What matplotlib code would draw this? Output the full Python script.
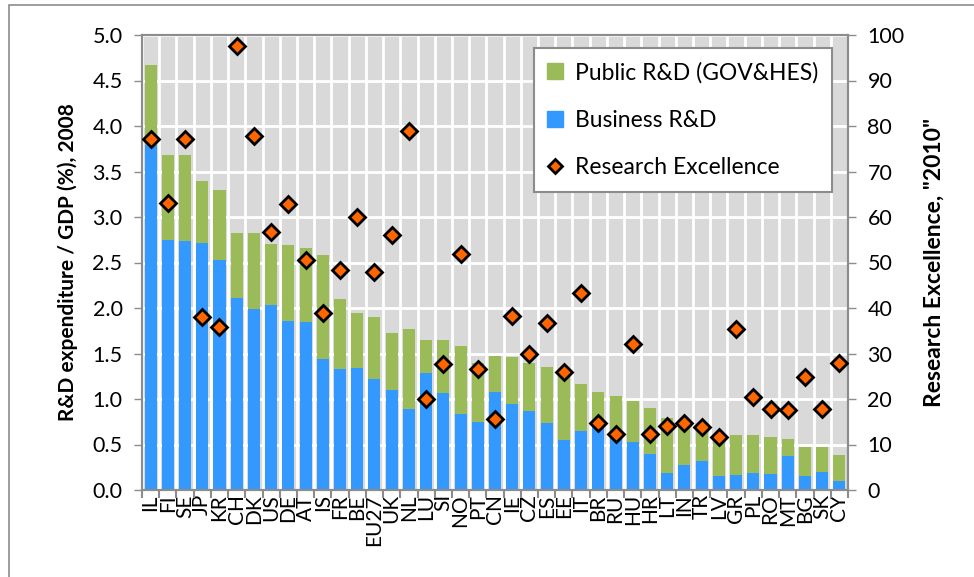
import numpy as np
import matplotlib.pyplot as plt
from matplotlib.lines import Line2D
from matplotlib.patches import Rectangle

plt.rcParams['font.family'] = ['Lato', 'DejaVu Sans']

# datos
countries = ["IL", "FI", "SE", "JP", "KR", "CH", "DK", "US", "DE", "AT", "IS", "FR", "BE",
             "EU27", "UK", "NL", "LU", "SI", "NO", "PT", "CN", "IE", "CZ", "ES", "EE", "IT",
             "BR", "RU", "HU", "HR", "LT", "IN", "TR", "LV", "GR", "PL", "RO", "MT", "BG",
             "SK", "CY"]
business = [3.79, 2.75, 2.74, 2.71, 2.53, 2.11, 1.99, 2.03, 1.86, 1.85, 1.44, 1.33, 1.34,
            1.22, 1.10, 0.89, 1.29, 1.07, 0.84, 0.75, 1.08, 0.94, 0.87, 0.74, 0.55, 0.65,
            0.70, 0.60, 0.53, 0.40, 0.19, 0.27, 0.32, 0.15, 0.17, 0.19, 0.18, 0.37, 0.15,
            0.20, 0.10]
public = [0.88, 0.93, 0.94, 0.69, 0.77, 0.71, 0.83, 0.67, 0.83, 0.81, 1.14, 0.77, 0.61,
          0.68, 0.63, 0.88, 0.36, 0.58, 0.74, 0.65, 0.39, 0.52, 0.53, 0.61, 0.78, 0.52,
          0.38, 0.43, 0.45, 0.50, 0.60, 0.50, 0.40, 0.47, 0.43, 0.41, 0.40, 0.19, 0.32,
          0.27, 0.29]
excellence = [77.1, 63.0, 77.1, 38.1, 35.8, 97.6, 77.7, 56.6, 62.9, 50.5, 38.9, 48.4, 60.1,
              47.9, 56.1, 78.9, 19.9, 27.6, 51.8, 26.5, 15.7, 38.2, 30.0, 36.7, 25.9, 43.2,
              14.8, 12.2, 32.0, 12.4, 14.1, 14.8, 13.8, 11.6, 35.3, 20.5, 17.9, 17.6, 24.8,
              17.9, 27.9]

green = "#9BBB59"
blue = "#3399FF"
orange = "#FF6600"
frame = "#8C8C8C"

fig = plt.figure(figsize=(9.74, 5.77), dpi=100)
ax = fig.add_axes([142 / 974, 1 - 490 / 577, 706 / 974, 455 / 577])
ax.set_facecolor("#D9D9D9")

x = np.arange(len(countries))
ax.bar(x, business, width=0.7, color=blue, zorder=2)
ax.bar(x, public, width=0.7, bottom=business, color=green, zorder=2)

ax.set_xlim(-0.5, len(countries) - 0.5)
ax.set_ylim(0, 5)
ax.set_yticks(np.arange(0, 5.01, 0.5))
ax.set_yticklabels([f"{v:.1f}" for v in np.arange(0, 5.01, 0.5)])
ax.set_xticks(x)
ax.set_xticklabels(countries, rotation=90, fontsize=15)
ax.set_xticks(np.arange(-0.5, len(countries), 1), minor=True)
ax.tick_params(axis="x", which="major", length=0, pad=3)
ax.tick_params(axis="x", which="minor", length=6, color=frame, width=1.5)
ax.tick_params(axis="y", labelsize=15.5, length=6, color=frame, width=1, pad=8)

# rejilla blanca (horizontal y entre categorias)
ax.grid(axis="y", color="white", linewidth=2, zorder=0)
ax.grid(axis="x", which="minor", color="white", linewidth=2, zorder=0)
ax.set_axisbelow(True)
for s in ax.spines.values():
    s.set_color(frame)
    s.set_linewidth(1.5)

ax.set_ylabel("R&D expenditure / GDP (%), 2008", fontsize=15, fontweight="bold", labelpad=10)

ax2 = ax.twinx()
ax2.plot(x, excellence, linestyle="", marker="D", markersize=8.5, markerfacecolor=orange,
         markeredgecolor="black", markeredgewidth=2, zorder=3)
ax2.set_ylim(0, 100)
ax2.set_yticks(np.arange(0, 101, 10))
ax2.tick_params(axis="y", labelsize=15.5, length=6, color=frame, width=1, pad=8)
for s in ax2.spines.values():
    s.set_color(frame)
    s.set_linewidth(1.5)
ax2.set_ylabel('Research Excellence, "2010"', fontsize=16.5, fontweight="bold", labelpad=14)

handles = [
    Line2D([], [], linestyle="", marker="s", markersize=11, markerfacecolor=green,
           markeredgecolor=green),
    Line2D([], [], linestyle="", marker="s", markersize=11, markerfacecolor=blue,
           markeredgecolor=blue),
    Line2D([], [], linestyle="", marker="D", markersize=7, markerfacecolor=orange,
           markeredgecolor="black", markeredgewidth=2),
]
leg = ax2.legend(handles, ["Public R&D (GOV&HES)", "Business R&D", "Research Excellence"],
                 loc="upper right", bbox_to_anchor=(0.977, 0.971), fontsize=16.5,
                 labelspacing=1.15, handlelength=0.7, handletextpad=0.5, borderpad=0.6,
                 borderaxespad=0, fancybox=False, framealpha=1)
leg.get_frame().set_edgecolor(frame)
leg.get_frame().set_linewidth(1.5)

# marco exterior del grafico
fig.patches.append(Rectangle((9 / 974, -0.1), 1.2, 1 - 5 / 577 + 0.1,
                             transform=fig.transFigure, fill=False,
                             edgecolor=frame, linewidth=1.2))

fig.savefig("out.png", dpi=100)
